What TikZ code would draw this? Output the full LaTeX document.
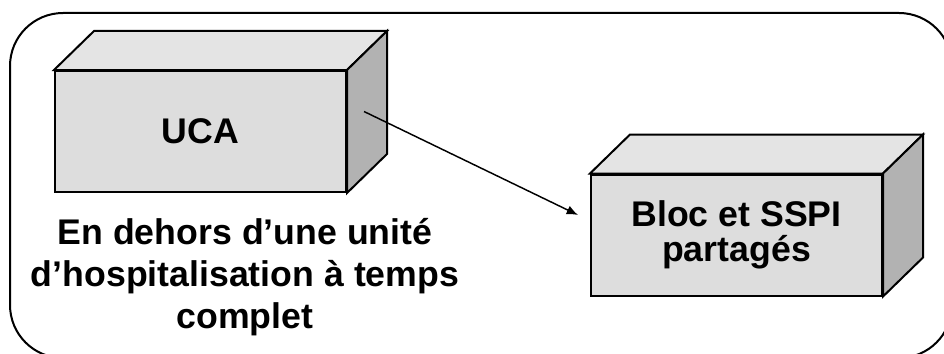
\documentclass[tikz,border=0pt]{standalone}
\usepackage{fontspec}
\setmainfont{Liberation Sans}
\usetikzlibrary{calc,arrows.meta}

\definecolor{faceavant}{HTML}{DDDDDD}
\definecolor{facedessus}{HTML}{E4E4E4}
\definecolor{facecote}{HTML}{B2B2B2}

\tikzset{
  boite/.style={draw, fill=faceavant, line width=1.5pt, minimum width=218.25pt,
    minimum height=90.75pt, inner sep=0pt, align=center,
    font=\fontsize{26.75}{26.5}\selectfont\bfseries},
  face/.style={draw, line width=1.5pt, line join=miter},
  legende/.style={align=center, font=\fontsize{26.75}{31.5}\selectfont\bfseries},
  fleche/.style={-{Latex[length=8.5pt,width=7pt]}, line width=1.1pt}
}

% dessus et cote d'une boite
\newcommand{\volume}[1]{
  \filldraw[face, fill=facedessus] (#1.north west) -- ++(40,-39)
    -- ($(#1.north east)+(40,-39)$) -- (#1.north east) -- cycle;
  \filldraw[face, fill=facecote] (#1.north east) -- ++(40,-39)
    -- ($(#1.south east)+(40,-39)$) -- (#1.south east) -- cycle;
}

\begin{document}
\begin{tikzpicture}[x=0.75pt, y=-0.75pt]
  \useasboundingbox (0,0) rectangle (944,353);
  \clip (0,0) rectangle (944,353);
  \draw[line width=1.5pt, rounded corners=39.75pt] (10,13) rectangle (952,358);

  \node[boite] (uca) at (200.5,131.5) {UCA};
  \volume{uca}
  \node[boite] (bloc) at (736.5,235) {Bloc et SSPI\\partagés};
  \volume{bloc}

  \node[legende] (hors) at (245,277) {En dehors d’une unité\\d’hospitalisation à temps\\complet};

  \coordinate (depart) at ($(uca.east)+(17,-20)$);
  \coordinate (arrivee) at ($(bloc.west)+(-12,-20)$);
  \draw[fleche] (depart) -- (arrivee);
\end{tikzpicture}
\end{document}
